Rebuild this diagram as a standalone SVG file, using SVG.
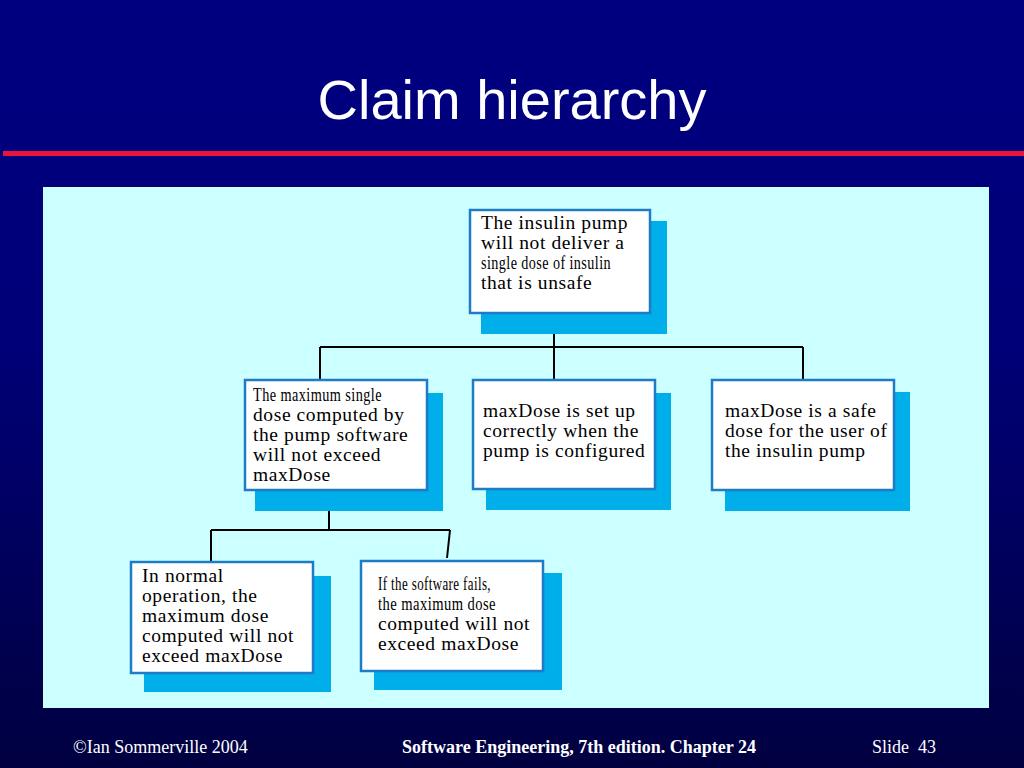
<svg xmlns="http://www.w3.org/2000/svg" width="1024" height="768" viewBox="0 0 1024 768">
<defs>
<linearGradient id="bg" x1="0" y1="0" x2="0" y2="1">
<stop offset="0" stop-color="#000080"/>
<stop offset="0.45" stop-color="#000078"/>
<stop offset="1" stop-color="#000040"/>
</linearGradient>
<style>
.shadow{fill:#00AEEA}
.box{fill:#FFFFFF;stroke:#1E7CC6;stroke-width:2.5}
.t{font-family:"Liberation Serif","Times New Roman",serif;font-size:19.5px;letter-spacing:0.6px;fill:#000000}
.conn{stroke:#000000;stroke-width:2;fill:none}
.foot{font-family:"Liberation Serif","Times New Roman",serif;font-size:18px;fill:#FFFFFF}
</style>
</defs>
<rect x="0" y="0" width="1024" height="768" fill="url(#bg)"/>
<text x="512" y="119" text-anchor="middle" font-family="'Liberation Sans',Arial,sans-serif" font-size="56" fill="#FFFFFF">Claim hierarchy</text>
<rect x="3" y="151" width="1021" height="5" fill="#E8143C"/>
<rect x="43" y="187" width="946" height="521" fill="#CCFFFF"/>

<g id="connectors">
<path class="conn" d="M554 313 V379 M320 347 H803 M320 347 V379 M803 347 V380"/>
<path class="conn" d="M329 490 V530 M211 530 H450 M211 530 V562 M450 530 L447 558"/>
</g>

<g id="n1">
<rect class="shadow" x="481" y="221" width="186" height="113"/>
<rect class="box" x="470" y="210" width="180" height="103"/>
<text class="t" x="481" y="229">The insulin pump</text>
<text class="t" x="481" y="249">will not deliver a</text>
<text class="t" x="481" y="269" textLength="130" lengthAdjust="spacingAndGlyphs">single dose of insulin</text>
<text class="t" x="481" y="289">that is unsafe</text>
</g>

<g id="n2">
<rect class="shadow" x="255" y="393" width="188" height="118"/>
<rect class="box" x="245" y="380" width="182" height="110"/>
<text class="t" x="253" y="401" textLength="129" lengthAdjust="spacingAndGlyphs">The maximum single</text>
<text class="t" x="253" y="421">dose computed by</text>
<text class="t" x="253" y="441">the pump software</text>
<text class="t" x="253" y="461">will not exceed</text>
<text class="t" x="253" y="481">maxDose</text>
</g>

<g id="n3">
<rect class="shadow" x="486" y="393" width="185" height="117"/>
<rect class="box" x="473" y="380" width="182" height="109"/>
<text class="t" x="483" y="417">maxDose is set up</text>
<text class="t" x="483" y="437">correctly when the</text>
<text class="t" x="483" y="457">pump is configured</text>
</g>

<g id="n4">
<rect class="shadow" x="725" y="392" width="185" height="119"/>
<rect class="box" x="712" y="380" width="182" height="110"/>
<text class="t" x="725" y="417">maxDose is a safe</text>
<text class="t" x="725" y="437">dose for the user of</text>
<text class="t" x="725" y="457">the insulin pump</text>
</g>

<g id="n5">
<rect class="shadow" x="144" y="576" width="187" height="116"/>
<rect class="box" x="131" y="562" width="182" height="111"/>
<text class="t" x="142" y="582">In normal</text>
<text class="t" x="142" y="602">operation, the</text>
<text class="t" x="142" y="622">maximum dose</text>
<text class="t" x="142" y="642">computed will not</text>
<text class="t" x="142" y="662">exceed maxDose</text>
</g>

<g id="n6">
<rect class="shadow" x="374" y="573" width="188" height="117"/>
<rect class="box" x="361" y="561" width="182" height="110"/>
<text class="t" x="378" y="590" textLength="113" lengthAdjust="spacingAndGlyphs">If the software fails,</text>
<text class="t" x="378" y="610" textLength="118" lengthAdjust="spacingAndGlyphs">the maximum dose</text>
<text class="t" x="378" y="630">computed will not</text>
<text class="t" x="378" y="650">exceed maxDose</text>
</g>

<text class="foot" x="73" y="753">©Ian Sommerville 2004</text>
<text class="foot" x="579" y="753" text-anchor="middle" font-weight="bold">Software Engineering, 7th edition. Chapter 24</text>
<text class="foot" x="872" y="753">Slide<tspan x="918">43</tspan></text>
</svg>
